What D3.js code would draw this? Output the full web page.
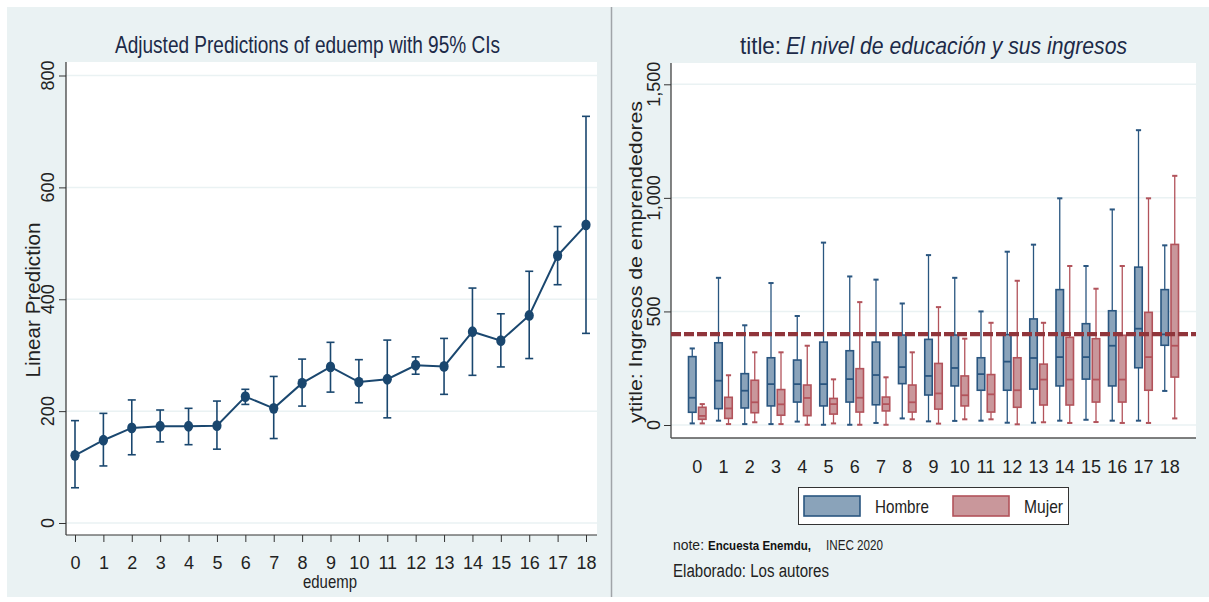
<!DOCTYPE html>
<html>
<head>
<meta charset="utf-8">
<script src="https://cdn.jsdelivr.net/npm/d3@7"></script>
<style>
    body { margin: 0; background: #fff; }
    svg text { font-family: "Liberation Sans Narrow", "Arial Narrow", "Liberation Sans", sans-serif; fill: #222; }
    .rot { font-family: "Liberation Sans", Arial, sans-serif !important; }
    .axis text { font-size: 18px; }
</style>
</head>
<body>
<svg id="chart" width="1209" height="602"></svg>
<script>
// shared categories: years of schooling of the entrepreneur
var categories = [0, 1, 2, 3, 4, 5, 6, 7, 8, 9, 10, 11, 12, 13, 14, 15, 16, 17, 18];

// left panel: margins with 95% CI
var predValue = [121, 148, 170, 173, 173, 174, 226, 205, 250, 279, 252, 257, 282, 280, 342, 326, 371, 478, 533];
var predLow   = [63, 102, 122, 145, 140, 132, 212, 151, 209, 234, 215, 188, 266, 230, 264, 279, 294, 426, 339];
var predHigh  = [183, 196, 220, 202, 205, 218, 239, 262, 293, 323, 292, 327, 297, 330, 420, 374, 450, 530, 727];
var leftTicks = [0, 200, 400, 600, 800];

// right panel: box plots by sex
var hombreMin = [7, 19, 4, 4, 15, 1, 1, 9, 29, 16, 18, 19, 10, 10, 19, 23, 19, 19, 150];
var hombreQ1  = [56, 72, 75, 84, 101, 84, 101, 89, 182, 132, 172, 153, 153, 158, 172, 202, 172, 252, 351];
var hombreMed = [120, 195, 151, 180, 180, 180, 202, 220, 255, 216, 251, 224, 279, 295, 299, 299, 349, 424, 399];
var hombreQ3  = [301, 362, 226, 296, 286, 365, 327, 365, 396, 377, 396, 296, 398, 467, 596, 446, 503, 695, 596];
var hombreMax = [337, 648, 439, 625, 480, 803, 654, 640, 535, 748, 648, 500, 763, 794, 998, 700, 949, 1298, 791];

var mujerMin = [7, 4, 12, 4, 1, 7, 1, 1, 25, 6, 25, 25, 3, 12, 9, 13, 9, 9, 29];
var mujerQ1  = [25, 29, 54, 43, 41, 48, 57, 62, 57, 70, 84, 57, 78, 88, 88, 101, 101, 153, 211];
var mujerMed = [40, 73, 100, 91, 119, 92, 120, 92, 100, 139, 131, 135, 153, 200, 200, 200, 200, 299, 349];
var mujerQ3  = [78, 122, 197, 156, 176, 117, 248, 123, 176, 271, 216, 222, 296, 268, 386, 380, 395, 496, 795];
var mujerMax = [92, 219, 320, 320, 349, 201, 541, 210, 320, 519, 380, 450, 635, 450, 700, 600, 700, 998, 1097];

var rightTicks = [0, 500, 1000, 1500];
var refLine = 400;
var seriesNames = ["Hombre", "Mujer"];

var NAVY = "#1a476f";
var BG = "#eaf2f3";

var svg = d3.select("#chart");

// panels
svg.append("rect").attr("x", 7).attr("y", 7).attr("width", 1202).attr("height", 590).attr("fill", BG);
svg.append("line").attr("x1", 611.5).attr("x2", 611.5).attr("y1", 7).attr("y2", 597)
    .attr("stroke", "#a0a4a8").attr("stroke-width", 1.5);

function rotatedText(x, y, txt, size, len) {
    var t = svg.append("text")
        .attr("class", "rot")
        .attr("transform", "translate(" + x + "," + y + ") rotate(-90)")
        .attr("text-anchor", "middle")
        .attr("dy", "0.35em")
        .style("font-size", size + "px")
        .text(txt);
    if (len) t.attr("textLength", len).attr("lengthAdjust", "spacingAndGlyphs");
    return t;
}

// plain horizontal text squeezed to the width measured on the reference
function flatText(x, y, txt, size, len, style) {
    var t = svg.append("text").attr("x", x).attr("y", y)
        .style("font-size", size + "px")
        .attr("textLength", len).attr("lengthAdjust", "spacingAndGlyphs")
        .text(txt);
    if (style) {
        for (var k in style) t.style(k, style[k]);
    }
    return t;
}

function drawLeft() {
    var plot = { left: 66, right: 597, top: 62, bottom: 535 };
    var x = d3.scaleLinear().domain([0, 18]).range([75, 586]);
    var y = d3.scaleLinear().domain([0, 800]).range([523, 75.5]);

    svg.append("rect").attr("x", plot.left).attr("y", plot.top)
        .attr("width", plot.right - plot.left).attr("height", plot.bottom - plot.top).attr("fill", "#fff");

    svg.append("g").selectAll("line").data(leftTicks).enter().append("line")
        .attr("x1", plot.left).attr("x2", plot.right)
        .attr("y1", function (d) { return y(d); }).attr("y2", function (d) { return y(d); })
        .attr("stroke", BG).attr("stroke-width", 1.5);

    var yAxis = svg.append("g").attr("class", "axis")
        .attr("transform", "translate(" + plot.left + ",0)")
        .call(d3.axisLeft(y).tickValues(leftTicks).tickSizeInner(7).tickSizeOuter(0).tickFormat(d3.format("d")));
    yAxis.select(".domain").remove();
    yAxis.selectAll("line").attr("stroke", "#333");
    yAxis.selectAll("text").remove();
    leftTicks.forEach(function (d) { rotatedText(48, y(d), d3.format("d")(d), 18); });

    var xAxis = svg.append("g").attr("class", "axis")
        .attr("transform", "translate(0," + plot.bottom + ")")
        .call(d3.axisBottom(x).tickValues(categories).tickSizeInner(7).tickSizeOuter(0).tickPadding(6));
    xAxis.select(".domain").remove();
    xAxis.selectAll("line").attr("stroke", "#333");
    xAxis.selectAll("text").attr("y", 0).attr("dy", 0)
        .attr("transform", "translate(0,34)");

    svg.append("line").attr("x1", plot.left).attr("x2", plot.left).attr("y1", plot.top).attr("y2", plot.bottom)
        .attr("stroke", "#333").attr("stroke-width", 1.2);
    svg.append("line").attr("x1", plot.left).attr("x2", plot.right).attr("y1", plot.bottom).attr("y2", plot.bottom)
        .attr("stroke", "#333").attr("stroke-width", 1.2);

    // CIs
    var ci = svg.append("g").attr("stroke", NAVY).attr("stroke-width", 1.6).attr("fill", "none");
    categories.forEach(function (c, i) {
        ci.append("line").attr("x1", x(c)).attr("x2", x(c)).attr("y1", y(predLow[i])).attr("y2", y(predHigh[i]));
        ci.append("line").attr("x1", x(c) - 4).attr("x2", x(c) + 4).attr("y1", y(predLow[i])).attr("y2", y(predLow[i]));
        ci.append("line").attr("x1", x(c) - 4).attr("x2", x(c) + 4).attr("y1", y(predHigh[i])).attr("y2", y(predHigh[i]));
    });

    var line = d3.line()
        .x(function (d, i) { return x(categories[i]); })
        .y(function (d) { return y(d); });
    svg.append("path").datum(predValue).attr("d", line)
        .attr("fill", "none").attr("stroke", NAVY).attr("stroke-width", 2);

    svg.append("g").selectAll("ellipse").data(predValue).enter().append("ellipse")
        .attr("cx", function (d, i) { return x(categories[i]); })
        .attr("cy", function (d) { return y(d); })
        .attr("rx", 4.6).attr("ry", 5.4)
        .attr("fill", NAVY);

    flatText(115, 53, "Adjusted Predictions of eduemp with 95% CIs", 24, 385, { fill: "#1c2a48" });
    flatText(303, 588, "eduemp", 19, 54);
    rotatedText(33, 300, "Linear Prediction", 20, 155);
}

function drawRight() {
    var plot = { left: 671, right: 1196, top: 63, bottom: 438 };
    var x = d3.scaleBand().domain(categories).range([plot.left, plot.right]).paddingInner(0).paddingOuter(0.5);
    var y = d3.scaleLinear().domain([0, 1500]).range([425, 84.3]);
    var fmt = d3.format(",");

    svg.append("rect").attr("x", plot.left).attr("y", plot.top)
        .attr("width", plot.right - plot.left).attr("height", plot.bottom - plot.top).attr("fill", "#fff");

    svg.append("g").selectAll("line").data(rightTicks).enter().append("line")
        .attr("x1", plot.left).attr("x2", plot.right)
        .attr("y1", function (d) { return y(d); }).attr("y2", function (d) { return y(d); })
        .attr("stroke", BG).attr("stroke-width", 1.5);

    var yAxis = svg.append("g").attr("class", "axis")
        .attr("transform", "translate(" + plot.left + ",0)")
        .call(d3.axisLeft(y).tickValues(rightTicks).tickSizeInner(7).tickSizeOuter(0));
    yAxis.select(".domain").remove();
    yAxis.selectAll("line").attr("stroke", "#333");
    yAxis.selectAll("text").remove();
    rightTicks.forEach(function (d) { rotatedText(654, y(d), fmt(d), 18); });

    var xAxis = svg.append("g").attr("class", "axis")
        .attr("transform", "translate(0," + plot.bottom + ")")
        .call(d3.axisBottom(x).tickSizeInner(0).tickSizeOuter(0));
    xAxis.select(".domain").remove();
    xAxis.selectAll("text").attr("y", 0).attr("dy", 0).attr("transform", "translate(0,35)");

    svg.append("line").attr("x1", plot.left).attr("x2", plot.left).attr("y1", plot.top).attr("y2", plot.bottom)
        .attr("stroke", "#333").attr("stroke-width", 1.2);
    svg.append("line").attr("x1", plot.left).attr("x2", plot.right).attr("y1", plot.bottom).attr("y2", plot.bottom)
        .attr("stroke", "#555").attr("stroke-width", 1.6);

    var series = [
        { name: seriesNames[0], off: -5, stroke: "#2a5680", fill: "#8aa3ba",
          lo: hombreMin, q1: hombreQ1, med: hombreMed, q3: hombreQ3, hi: hombreMax },
        { name: seriesNames[1], off: 5, stroke: "#b2535b", fill: "#c9979b",
          lo: mujerMin, q1: mujerQ1, med: mujerMed, q3: mujerQ3, hi: mujerMax }
    ];
    var bw = 7.5, cap = 2.6;

    series.forEach(function (s) {
        var g = svg.append("g").attr("stroke", s.stroke);
        categories.forEach(function (c, i) {
            var cx = x(c) + x.bandwidth() / 2 + s.off;
            g.append("line").attr("x1", cx).attr("x2", cx).attr("y1", y(s.q3[i])).attr("y2", y(s.hi[i])).attr("stroke-width", 1.3);
            g.append("line").attr("x1", cx).attr("x2", cx).attr("y1", y(s.q1[i])).attr("y2", y(s.lo[i])).attr("stroke-width", 1.3);
            g.append("line").attr("x1", cx - cap).attr("x2", cx + cap).attr("y1", y(s.hi[i])).attr("y2", y(s.hi[i])).attr("stroke-width", 2);
            g.append("line").attr("x1", cx - cap).attr("x2", cx + cap).attr("y1", y(s.lo[i])).attr("y2", y(s.lo[i])).attr("stroke-width", 2);
            g.append("rect").attr("x", cx - bw / 2).attr("y", y(s.q3[i]))
                .attr("width", bw).attr("height", y(s.q1[i]) - y(s.q3[i]))
                .attr("fill", s.fill).attr("stroke-width", 1.6);
            g.append("line").attr("x1", cx - bw / 2).attr("x2", cx + bw / 2).attr("y1", y(s.med[i])).attr("y2", y(s.med[i])).attr("stroke-width", 1.8);
        });
    });

    svg.append("line").attr("x1", plot.left).attr("x2", plot.right)
        .attr("y1", y(refLine)).attr("y2", y(refLine))
        .attr("stroke", "#90353b").attr("stroke-width", 4.2).attr("stroke-dasharray", "10,3");

    // title: plain prefix, italic body
    flatText(740, 54, "title:", 24, 41, { fill: "#1c2a48" });
    flatText(786, 54, "El nivel de educación y sus ingresos", 24, 341, { fill: "#1c2a48", "font-style": "italic" });
    rotatedText(635, 262, "ytitle: Ingresos de emprendedores", 19, 322);

    // legend
    var lg = svg.append("g");
    lg.append("rect").attr("x", 798.5).attr("y", 487.5).attr("width", 270).attr("height", 37)
        .attr("fill", "#fff").attr("stroke", "#333").attr("stroke-width", 1);
    var legendX = [804, 953];
    var labelW = [54, 39];
    series.forEach(function (s, i) {
        lg.append("rect").attr("x", legendX[i]).attr("y", 496).attr("width", 56).attr("height", 20)
            .attr("fill", s.fill).attr("stroke", s.stroke).attr("stroke-width", 1.6);
        lg.append("text").attr("x", legendX[i] + 71).attr("y", 513)
            .style("font-size", "19px")
            .attr("textLength", labelW[i]).attr("lengthAdjust", "spacingAndGlyphs")
            .text(s.name);
    });

    // notes
    flatText(673, 550, "note:", 14, 31);
    flatText(708, 550, "Encuesta Enemdu,", 13, 103, { "font-weight": "bold", fill: "#111" });
    flatText(826, 550, "INEC 2020", 14, 57);
    flatText(673, 577, "Elaborado: Los autores", 18, 156);
}

drawLeft();
drawRight();
</script>
</body>
</html>
